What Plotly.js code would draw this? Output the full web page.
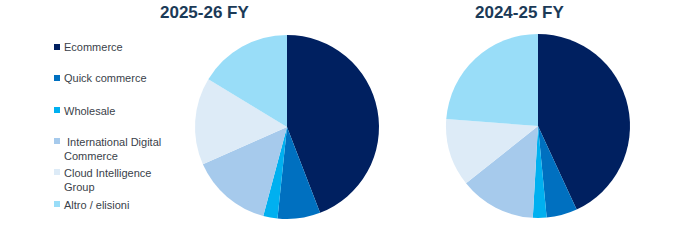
<!DOCTYPE html>
<html>
<head>
<meta charset="utf-8">
<script src="https://cdn.plot.ly/plotly-3.0.1.min.js"></script>
<style>html,body{margin:0;padding:0;background:#fff;}#chart{width:674px;height:243px;}</style>
</head>
<body>
<div id="chart"></div>
<script>
const categories = ["Ecommerce", "Quick commerce", "Wholesale", " International Digital<br>Commerce", "Cloud Intelligence<br>Group", "Altro / elisioni"];
const seriesNames = ["2025-26 FY", "2024-25 FY"];
const values2526 = [44.1, 7.5, 2.5, 14.2, 15.3, 16.3];
const values2425 = [43.1, 5.4, 2.4, 13.4, 11.9, 23.8];
const colors = ["#002060", "#0070C0", "#00B0F0", "#A6CAEC", "#DDEBF7", "#99DDF8"];

const W = 674, H = 243;
function px(x){ return x / W; }
function py(y){ return 1 - y / H; }

const pieCommon = {
  type: "pie", sort: false, direction: "clockwise", rotation: 0,
  textinfo: "none", hoverinfo: "label+percent", showlegend: false,
  marker: { colors: colors, line: { width: 0 } }
};
const data = [
  Object.assign({}, pieCommon, { labels: categories, values: values2526, name: seriesNames[0],
    domain: { x: [px(195), px(379)], y: [py(219), py(35)] } }),
  Object.assign({}, pieCommon, { labels: categories, values: values2425, name: seriesNames[1],
    domain: { x: [px(446), px(630)], y: [py(218), py(34)] } })
];

const legendY = [47, 78, 110, 141, 172, 204];
const annotations = [
  { text: "<b>" + seriesNames[0] + "</b>", x: px(204), y: py(13), xref: "paper", yref: "paper",
    showarrow: false, xanchor: "center", yanchor: "middle",
    font: { family: "Liberation Sans, Arial, sans-serif", size: 17, color: "#1B3A57" } },
  { text: "<b>" + seriesNames[1] + "</b>", x: px(519), y: py(13), xref: "paper", yref: "paper",
    showarrow: false, xanchor: "center", yanchor: "middle",
    font: { family: "Liberation Sans, Arial, sans-serif", size: 17, color: "#1B3A57" } }
];
const shapes = [];
categories.forEach((c, i) => {
  annotations.push({
    text: c, x: px(62), y: py(legendY[i] - 7.5), xref: "paper", yref: "paper",
    showarrow: false, xanchor: "left", yanchor: "top", align: "left",
    font: { family: "Liberation Sans, Arial, sans-serif", size: 11, color: "#3A3F4A" }
  });
  shapes.push({ type: "rect", xref: "paper", yref: "paper",
    x0: px(54), x1: px(60), y0: py(legendY[i] - 3), y1: py(legendY[i] + 3),
    fillcolor: colors[i], line: { width: 0 } });
});

const layout = {
  width: W, height: H,
  margin: { l: 0, r: 0, t: 0, b: 0 },
  paper_bgcolor: "#ffffff",
  annotations: annotations, shapes: shapes,
  showlegend: false
};
Plotly.newPlot("chart", data, layout, { displayModeBar: false, staticPlot: true });
</script>
</body>
</html>
